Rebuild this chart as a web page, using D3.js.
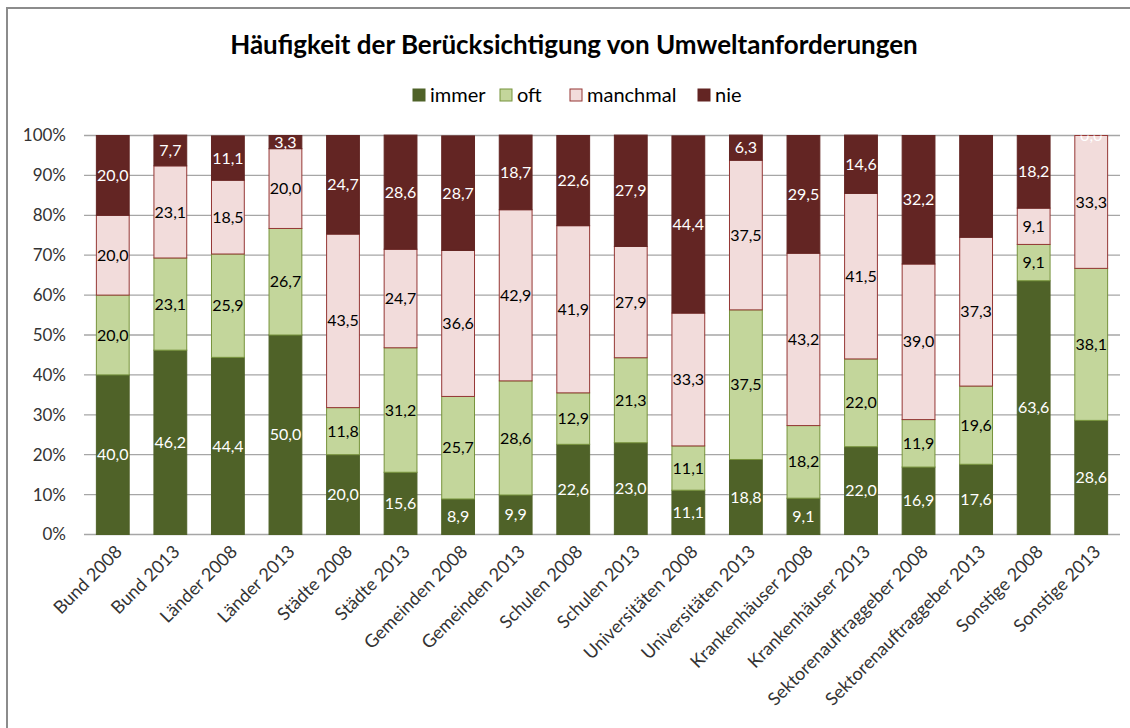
<!DOCTYPE html>
<html>
<head>
<meta charset="utf-8">
<script src="https://cdn.jsdelivr.net/npm/d3@7"></script>
<style>
  body { margin: 0; background: #fff; }
  svg { display: block; font-family: Lato, 'Open Sans', sans-serif; }
</style>
</head>
<body>
<svg id="chart" width="1130" height="728"></svg>
<script>
// categories and series (percent)
const categories = [
  'Bund 2008', 'Bund 2013', 'Länder 2008', 'Länder 2013', 'Städte 2008', 'Städte 2013',
  'Gemeinden 2008', 'Gemeinden 2013', 'Schulen 2008', 'Schulen 2013',
  'Universitäten 2008', 'Universitäten 2013', 'Krankenhäuser 2008', 'Krankenhäuser 2013',
  'Sektorenauftraggeber 2008', 'Sektorenauftraggeber 2013', 'Sonstige 2008', 'Sonstige 2013'
];
const seriesNames = ['immer', 'oft', 'manchmal', 'nie'];
const immer    = [40.0, 46.2, 44.4, 50.0, 20.0, 15.6, 8.9, 9.9, 22.6, 23.0, 11.1, 18.8, 9.1, 22.0, 16.9, 17.6, 63.6, 28.6];
const oft      = [20.0, 23.1, 25.9, 26.7, 11.8, 31.2, 25.7, 28.6, 12.9, 21.3, 11.1, 37.5, 18.2, 22.0, 11.9, 19.6, 9.1, 38.1];
const manchmal = [20.0, 23.1, 18.5, 20.0, 43.5, 24.7, 36.6, 42.9, 41.9, 27.9, 33.3, 37.5, 43.2, 41.5, 39.0, 37.3, 9.1, 33.3];
const nie      = [20.0, 7.7, 11.1, 3.3, 24.7, 28.6, 28.7, 18.7, 22.6, 27.9, 44.4, 6.3, 29.5, 14.6, 32.2, 25.5, 18.2, 0.0];
// data label that is not shown in the original
const hiddenLabels = [['Sektorenauftraggeber 2013', 'nie']];
const yTicks = [0, 10, 20, 30, 40, 50, 60, 70, 80, 90, 100];

const fills   = { immer: '#4f6228', oft: '#c3d69b', manchmal: '#f2dcdb', nie: '#632523' };
const strokes = { immer: '#4f6228', oft: '#77933c', manchmal: '#953735', nie: '#632523' };
const labelColor = { immer: '#ffffff', oft: '#000000', manchmal: '#000000', nie: '#ffffff' };

const svg = d3.select('#chart');

// outer chart border
svg.append('rect')
  .attr('x', 7).attr('y', 8)
  .attr('width', 1140).attr('height', 740)
  .attr('fill', 'none')
  .attr('stroke', '#8c8c8c')
  .attr('stroke-width', 2);

const margin = { top: 135.5, left: 84, right: 1120, bottom: 534.5 };

const x = d3.scaleBand()
  .domain(categories)
  .range([margin.left, margin.right])
  .paddingInner(0.43)
  .paddingOuter(0.215);

const y = d3.scaleLinear()
  .domain([0, 100])
  .range([margin.bottom, margin.top]);

// gridlines
svg.append('g')
  .selectAll('line')
  .data(yTicks)
  .join('line')
  .attr('x1', margin.left).attr('x2', margin.right)
  .attr('y1', (d) => y(d)).attr('y2', (d) => y(d))
  .attr('stroke', '#a6a6a6')
  .attr('stroke-width', 1.3);

// y axis labels
svg.append('g')
  .selectAll('text')
  .data(yTicks)
  .join('text')
  .attr('x', 66)
  .attr('y', (d) => y(d))
  .attr('dy', '0.35em')
  .attr('text-anchor', 'end')
  .attr('fill', '#333')
  .style('font-size', '17px')
  .text((d) => d + '%');

// stacked data
const rows = categories.map((c, i) => ({
  cat: c, immer: immer[i], oft: oft[i], manchmal: manchmal[i], nie: nie[i]
}));
const stacked = d3.stack().keys(seriesNames)(rows);

svg.append('clipPath').attr('id', 'plotclip')
  .append('rect')
  .attr('x', margin.left).attr('y', margin.top)
  .attr('width', margin.right - margin.left)
  .attr('height', margin.bottom - margin.top);

const layers = svg.append('g')
  .selectAll('g')
  .data(stacked)
  .join('g');

layers.selectAll('rect')
  .data((s) => s.map((d) => ({ key: s.key, d })))
  .join('rect')
  .attr('x', (p) => x(p.d.data.cat))
  .attr('width', x.bandwidth())
  .attr('y', (p) => y(p.d[1]))
  .attr('height', (p) => y(p.d[0]) - y(p.d[1]))
  .attr('fill', (p) => fills[p.key])
  .attr('stroke', (p) => strokes[p.key])
  .attr('stroke-width', 1);

// data labels
const fmt = (v) => v.toFixed(1).replace('.', ',');
const isHidden = (cat, key) => hiddenLabels.some((h) => h[0] === cat && h[1] === key);

svg.append('g')
  .attr('clip-path', 'url(#plotclip)')
  .selectAll('g')
  .data(stacked)
  .join('g')
  .selectAll('text')
  .data((s) => s.map((d) => ({ key: s.key, d }))
    .filter((p) => !isHidden(p.d.data.cat, p.key)))
  .join('text')
  .attr('x', (p) => x(p.d.data.cat) + x.bandwidth() / 2)
  .attr('y', (p) => y((p.d[0] + p.d[1]) / 2))
  .attr('dy', '0.35em')
  .attr('text-anchor', 'middle')
  .attr('fill', (p) => labelColor[p.key])
  .style('font-size', '16px')
  .text((p) => fmt(p.d.data[p.key]));

// category labels
svg.append('g')
  .selectAll('text')
  .data(categories)
  .join('text')
  .attr('transform', (d) => 'translate(' + (x(d) + x.bandwidth() / 2 + 6) + ',' + (margin.bottom + 14) + ') rotate(-45)')
  .attr('text-anchor', 'end')
  .attr('dy', '0.35em')
  .attr('fill', '#333')
  .style('font-size', '18px')
  .text((d) => d);

// title
svg.append('text')
  .attr('x', 574)
  .attr('y', 45)
  .attr('dy', '0.35em')
  .attr('text-anchor', 'middle')
  .attr('fill', '#000')
  .style('font-size', '26px')
  .style('font-weight', 'bold')
  .text('Häufigkeit der Berücksichtigung von Umweltanforderungen');

// legend
const legendX = [413, 500, 570, 698];
const legend = svg.append('g')
  .selectAll('g')
  .data(seriesNames)
  .join('g')
  .attr('transform', (d, i) => 'translate(' + legendX[i] + ',95)');
legend.append('rect')
  .attr('x', 0).attr('y', -6)
  .attr('width', 12).attr('height', 12)
  .attr('fill', (d) => fills[d])
  .attr('stroke', (d) => strokes[d]);
legend.append('text')
  .attr('x', 17)
  .attr('dy', '0.35em')
  .attr('fill', '#000')
  .style('font-size', '20px')
  .text((d) => d);
</script>
</body>
</html>
